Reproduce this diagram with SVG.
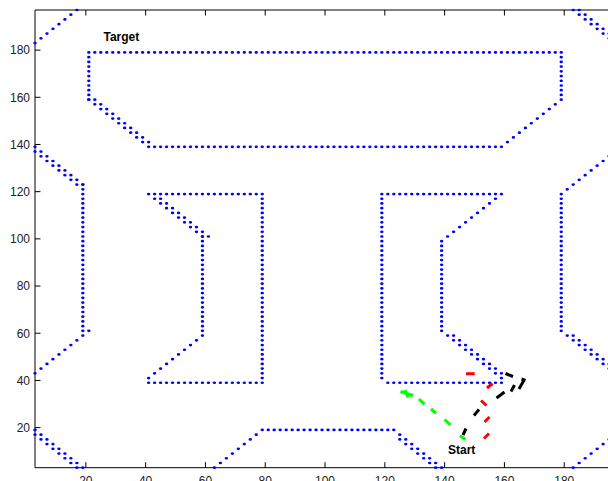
<svg xmlns="http://www.w3.org/2000/svg" width="608" height="481" viewBox="0 0 608 481">
  <style>
    .hv { fill: none; stroke: #0000ff; stroke-width: 1.15; stroke-linecap: round; stroke-dasharray: 0 2; }
    .dg { fill: none; stroke: #0000ff; stroke-width: 1.15; stroke-linecap: round; stroke-dasharray: 0 2.8284; }
    .axis { fill: none; stroke: #000; stroke-width: 1; }
    .tick { fill: none; stroke: #000; stroke-width: 1; }
    .tl { font-family: "Liberation Sans", Arial, sans-serif; font-size: 12px; fill: #222; }
    .lbl { font-family: "Liberation Sans", Arial, sans-serif; font-size: 12px; font-weight: bold; fill: #000; }
    .red { fill: none; stroke: #ff0000; stroke-width: 3; }
    .grn { fill: none; stroke: #00ff00; stroke-width: 3; }
    .blk { fill: none; stroke: #000; stroke-width: 3; }
  </style>
  <rect width="608" height="481" fill="#fff"/>

  <!-- axes frame and ticks -->
  <g id="axes">
    <path class="axis" d="M35 10V467.7H615M35 10H615"/>
    <path class="tick" d="M85.83 467.7v-5.5M145.63 467.7v-5.5M205.43 467.7v-5.5M265.23 467.7v-5.5M325.03 467.7v-5.5M384.83 467.7v-5.5M444.63 467.7v-5.5M504.43 467.7v-5.5M564.23 467.7v-5.5
      M85.83 10v5.5M145.63 10v5.5M205.43 10v5.5M265.23 10v5.5M325.03 10v5.5M384.83 10v5.5M444.63 10v5.5M504.43 10v5.5M564.23 10v5.5
      M35 427.59h5.5M35 380.41h5.5M35 333.22h5.5M35 286.04h5.5M35 238.85h5.5M35 191.66h5.5M35 144.48h5.5M35 97.29h5.5M35 50.11h5.5"/>
    <g class="tl" text-anchor="end">
      <text x="30" y="431.9">20</text>
      <text x="30" y="384.7">40</text>
      <text x="30" y="337.5">60</text>
      <text x="30" y="290.3">80</text>
      <text x="30" y="243.2">100</text>
      <text x="30" y="196">120</text>
      <text x="30" y="148.8">140</text>
      <text x="30" y="101.6">160</text>
      <text x="30" y="54.4">180</text>
    </g>
    <!-- x tick labels sit partly below the bottom edge of the canvas -->
    <g class="tl" text-anchor="middle">
      <text x="85.83" y="485">20</text>
      <text x="145.63" y="485">40</text>
      <text x="205.43" y="485">60</text>
      <text x="265.23" y="485">80</text>
      <text x="325.03" y="485">100</text>
      <text x="384.83" y="485">120</text>
      <text x="444.63" y="485">140</text>
      <text x="504.43" y="485">160</text>
      <text x="564.23" y="485">180</text>
    </g>
  </g>

  <!-- obstacle outlines, sampled every 2 map units -->
  <g transform="matrix(2.99 0 0 -2.3593 26.03 474.78)">
    <g id="corner-top-left">
      <path class="dg" d="M3 183L17.1 197.1"/>
    </g>
    <g id="corner-top-right">
      <path class="dg" d="M183 197L197.1 182.9M185 197L197.1 184.9"/>
    </g>
    <g id="top-bar">
      <path class="hv" d="M21 179H179.2M21 179V158.8M179 179V158.8M41 139H159.2"/>
      <path class="dg" d="M21 159L39.1 140.9M23 159L41.1 140.9M177 157L160.9 140.9"/>
    </g>
    <g id="left-bracket">
      <path class="hv" d="M41 119H79.2M79 119V38.8M41 39H79.2M59 101V58.8"/>
      <path class="dg" d="M43 117L59.1 100.9M45 117L61.1 100.9M57 57L40.9 40.9"/>
    </g>
    <g id="right-bracket">
      <path class="hv" d="M119 119H159.2M119 119V40.8M121 39H159.2M139 99V60.8"/>
      <path class="dg" d="M157 117L140.9 100.9M141 59L159.1 40.9M143 59L159.1 42.9"/>
    </g>
    <g id="left-wall">
      <path class="hv" d="M19 123V58.8M21 61h0.1"/>
      <path class="dg" d="M3 139L19.1 122.9M3 137L17.1 122.9M17 57L2.9 42.9"/>
    </g>
    <g id="right-wall">
      <path class="hv" d="M179 119V60.8"/>
      <path class="dg" d="M181 121L197.1 137.1M181 59L197.1 42.9M183 59L197.1 44.9"/>
    </g>
    <g id="bottom-block">
      <path class="hv" d="M79 19H123.2"/>
      <path class="dg" d="M63 3L77.1 17.1M125 17L139.1 2.9M125 15L137.1 2.9"/>
    </g>
    <g id="corner-bottom-left">
      <path class="dg" d="M3 19L19.1 2.9M3 17L17.1 2.9"/>
    </g>
    <g id="corner-bottom-right">
      <path class="dg" d="M183 3L197.1 17.1"/>
    </g>
  </g>

  <!-- robot trajectories -->
  <g id="trajectories">
    <path class="grn" d="M460 435.8L465.5 439.5M444.5 419.5L450.5 425M431 409L436 413.3M419 399L424.5 404.3"/>
    <path class="grn" stroke-width="4" d="M400.5 391.5L413 395.5M405 390L408 397.5"/>
    <path class="blk" d="M463 435L466 428.5M474 415.5L479 409.5M496.5 398L504.5 392M505.5 373.5L513 376.5M511 391.5L514.5 385M519 389L523.5 381M521.5 379L525.5 380.5"/>
    <path class="red" d="M466 373.7H474.7M487 388L492.5 383.5M481 400.5L486.5 405.5M484.5 422L489.5 417M484 438.5L489 433.5"/>
  </g>

  <g id="label-target"><text class="lbl" x="103.5" y="41">Target</text></g>
  <g id="label-start"><text class="lbl" x="448" y="453.5">Start</text></g>
</svg>
